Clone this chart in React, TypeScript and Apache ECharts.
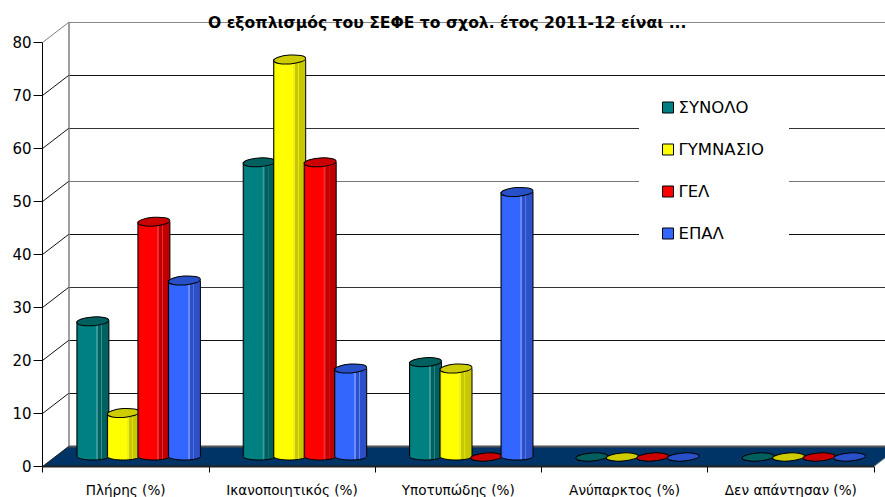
import React, { useEffect, useRef } from "react";
import * as echarts from "echarts";

const categories = ["Πλήρης (%)", "Ικανοποιητικός (%)", "Υποτυπώδης (%)", "Ανύπαρκτος (%)", "Δεν απάντησαν (%)"];
const synolo = [25.6, 55.6, 17.9, 0, 0];
const gymnasio = [8.3, 75, 16.7, 0, 0];
const gel = [44.4, 55.6, 0, 0, 0];
const epal = [33.3, 16.7, 50, 0, 0];
const yTicks = [0, 10, 20, 30, 40, 50, 60, 70, 80];
const titleText = "Ο εξοπλισμός του ΣΕΦΕ το σχολ. έτος 2011-12 είναι ...";

const FONT = '"DejaVu Sans", sans-serif';
const DEPTH_X = 26;
const DEPTH_Y = 20;
const BAR_STEP = 30.5;
const BAR_RX = 16;
const WALL_LINES = ["#333", "#111", "#111", "#333", "#111", "#777", "#333", "#111", "#888", "#808080"];

type Palette = { name: string; values: number[]; base: string; shade: string; glint: string; top: string };

const palettes: Palette[] = [
  { name: "ΣΥΝΟΛΟ", values: synolo, base: "#008080", shade: "#005f5f", glint: "#3a9a9a", top: "#006060" },
  { name: "ΓΥΜΝΑΣΙΟ", values: gymnasio, base: "#ffff00", shade: "#c8c800", glint: "#eeee20", top: "#cccc00" },
  { name: "ΓΕΛ", values: gel, base: "#ff0000", shade: "#c00000", glint: "#f03030", top: "#cc0000" },
  { name: "ΕΠΑΛ", values: epal, base: "#3366ff", shade: "#2b50c8", glint: "#6a8cff", top: "#2850c8" },
];

// One cylinder per value: a shaded body on a rounded foot, capped by a tilted ellipse.
function cylinderRenderer(index: number, p: Palette) {
  return (_params: any, api: any) => {
    const cat = api.value(0);
    const val = api.value(1);
    const head = api.coord([cat, val]);
    const foot = api.coord([cat, 0]);
    const cx = head[0] + DEPTH_X / 2 + (index - 1.5) * BAR_STEP;
    const yTop = head[1] - DEPTH_Y / 2 + 0.5;
    const yBottom = foot[1] - DEPTH_Y / 2;
    const line = { stroke: "#000", lineWidth: 1 };
    const cap = {
      type: "ellipse",
      x: cx,
      y: yTop,
      rotation: 0.07,
      shape: { cx: 0, cy: 0, rx: BAR_RX, ry: val === 0 ? 4 : 4.4 },
      style: { fill: p.top, ...line },
    };
    if (val === 0) return { type: "group", children: [cap] };
    const fill = new echarts.graphic.LinearGradient(0, 0, 1, 0, [
      { offset: 0, color: p.shade },
      { offset: 0.06, color: p.base },
      { offset: 0.6, color: p.base },
      { offset: 0.61, color: p.glint },
      { offset: 0.66, color: p.glint },
      { offset: 0.67, color: p.shade },
      { offset: 0.76, color: p.shade },
      { offset: 0.77, color: p.glint },
      { offset: 0.8, color: p.shade },
      { offset: 1, color: p.shade },
    ]);
    return {
      type: "group",
      children: [
        {
          type: "ellipse",
          shape: { cx, cy: yBottom, rx: BAR_RX, ry: 3.5 },
          style: { fill, ...line },
        },
        {
          type: "rect",
          shape: { x: cx - BAR_RX, y: yTop, width: BAR_RX * 2, height: yBottom - yTop },
          style: { fill },
        },
        { type: "line", shape: { x1: cx - BAR_RX, y1: yTop, x2: cx - BAR_RX, y2: yBottom }, style: line },
        { type: "line", shape: { x1: cx + BAR_RX, y1: yTop, x2: cx + BAR_RX, y2: yBottom }, style: line },
        cap,
      ],
    };
  };
}

// Floor slab and the diagonal struts joining the value axis to the back wall.
function frameRenderer(params: any, api: any) {
  const val = api.value(0);
  const sys = params.coordSys;
  const y = api.coord([0, val])[1];
  const left = sys.x;
  const right = sys.x + sys.width;
  const strut = {
    type: "line",
    shape: { x1: left, y1: y, x2: left + DEPTH_X, y2: y - DEPTH_Y },
    style: { stroke: val === 80 ? "#808080" : "#111", lineWidth: 1 },
  };
  if (val !== 0) return strut;
  return {
    type: "group",
    children: [
      {
        type: "polygon",
        shape: {
          points: [
            [left, y],
            [right, y],
            [right + DEPTH_X, y - DEPTH_Y],
            [left + DEPTH_X, y - DEPTH_Y],
          ],
        },
        style: { fill: "#003366" },
      },
      {
        type: "line",
        shape: { x1: left + DEPTH_X, y1: y - DEPTH_Y, x2: right + DEPTH_X, y2: y - DEPTH_Y },
        style: { stroke: "#555", lineWidth: 2 },
      },
      {
        type: "line",
        shape: { x1: left, y1: y, x2: right, y2: y },
        style: { stroke: "#222", lineWidth: 2 },
      },
      {
        type: "line",
        shape: { x1: right, y1: y, x2: right + DEPTH_X, y2: y - DEPTH_Y },
        style: { stroke: "#888", lineWidth: 1 },
      },
      {
        type: "line",
        shape: { x1: left, y1: y, x2: left + DEPTH_X, y2: y - DEPTH_Y },
        style: { stroke: "#222", lineWidth: 1 },
      },
    ],
  };
}

export default function App() {
  const ref = useRef<HTMLDivElement>(null);

  useEffect(() => {
    const chart = echarts.init(ref.current!, undefined, { renderer: "svg" });
    chart.setOption({
      animation: false,
      backgroundColor: "#fff",
      title: {
        text: titleText,
        left: 208,
        top: 15,
        padding: 0,
        textStyle: { fontFamily: FONT, fontSize: 15.6, fontWeight: "bold", color: "#000" },
        z: 6,
      },
      legend: {
        orient: "vertical",
        left: 662,
        top: 99,
        padding: 0,
        itemWidth: 11,
        itemHeight: 11,
        itemGap: 25,
        itemSpacing: 5,
        icon: "rect",
        data: palettes.map((p) => p.name),
        textStyle: { fontFamily: FONT, fontSize: 16.5, color: "#000" },
        itemStyle: { borderColor: "#000", borderWidth: 1 },
        selectedMode: false,
        z: 5,
      },
      grid: [
        { left: 42.5, right: 11, top: 42.5, bottom: 30.5 },
        { left: 68.5, width: 831.5, top: 22.5, height: 424 },
      ],
      xAxis: [
        {
          gridIndex: 0,
          type: "category",
          data: categories,
          axisLine: { show: false },
          axisTick: { show: true, length: 6, lineStyle: { color: "#000" } },
          axisLabel: { fontFamily: FONT, fontSize: 13.6, color: "#000", margin: 16, interval: 0 },
        },
        { gridIndex: 1, type: "category", data: categories, show: false },
      ],
      yAxis: [
        {
          gridIndex: 0,
          type: "value",
          min: 0,
          max: 80,
          interval: 10,
          axisLine: { show: true, lineStyle: { color: "#000", width: 1 } },
          axisTick: { show: true, length: 9, lineStyle: { color: "#000" } },
          axisLabel: { fontFamily: FONT, fontSize: 15, color: "#000", margin: 11 },
          splitLine: { show: false },
        },
        {
          gridIndex: 1,
          type: "value",
          min: 0,
          max: 80,
          interval: 10,
          axisLabel: { show: false },
          axisTick: { show: false },
          axisLine: { show: true, lineStyle: { color: "#808080", width: 1.5 } },
          splitLine: { show: true, lineStyle: { color: WALL_LINES, width: 1 } },
        },
      ],
      graphic: [
        {
          // Clear panel behind the legend that interrupts the wall lines.
          type: "rect",
          shape: { x: 639, y: 92, width: 150, height: 158 },
          style: { fill: "#fff" },
          z: 1,
        },
      ],
      series: [
        {
          name: "frame",
          type: "custom",
          xAxisIndex: 0,
          yAxisIndex: 0,
          clip: false,
          silent: true,
          z: 2,
          data: yTicks.map((v) => [v]),
          encode: { y: 0 },
          renderItem: frameRenderer,
        },
        ...palettes.map((p, i) => ({
          name: p.name,
          type: "custom",
          xAxisIndex: 0,
          yAxisIndex: 0,
          clip: false,
          z: 3,
          itemStyle: { color: p.base, borderColor: "#000", borderWidth: 1 },
          data: p.values.map((v, c) => [c, v]),
          encode: { x: 0, y: 1 },
          renderItem: cylinderRenderer(i, p),
        })),
      ],
    });
    return () => chart.dispose();
  }, []);

  return (
    <div
      ref={ref}
      style={{ position: "fixed", left: 0, top: 0, width: 885, height: 497 }}
    />
  );
}
